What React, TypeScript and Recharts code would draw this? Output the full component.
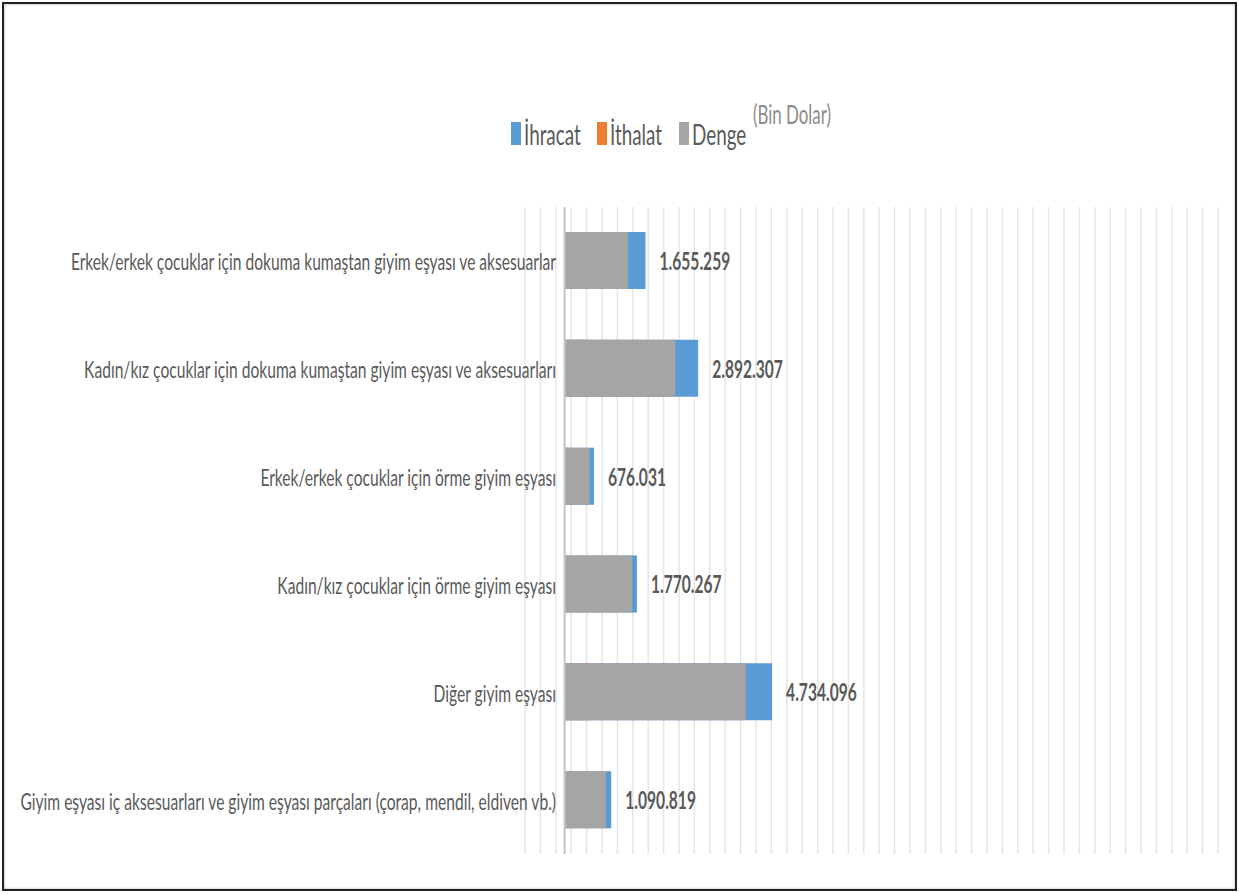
import { BarChart, Bar, XAxis, YAxis, CartesianGrid, Legend, ReferenceLine, LabelList } from 'recharts';

const categories = [
  'Erkek/erkek çocuklar için dokuma kumaştan giyim eşyası ve aksesuarlar',
  'Kadın/kız çocuklar için dokuma kumaştan giyim eşyası ve aksesuarları',
  'Erkek/erkek çocuklar için örme giyim eşyası',
  'Kadın/kız çocuklar için örme giyim eşyası',
  'Diğer giyim eşyası',
  'Giyim eşyası iç aksesuarları ve giyim eşyası parçaları (çorap, mendil, eldiven vb.)',
];

// Bin Dolar
const ihracat = [1839, 3036, 668, 1644, 4716, 1060];
const ithalat = [399, 522, 100, 107, 597, 120];
const denge = [1440, 2514, 568, 1537, 4119, 940];
const valueLabels = ['1.655.259', '2.892.307', '676.031', '1.770.267', '4.734.096', '1.090.819'];

const seriesOrder = ['İhracat', 'İthalat', 'Denge'];
const X_DOMAIN = [-900, 14850];
const gridTicks = Array.from({ length: 46 }, (_, i) => -900 + i * 350);

const data = categories.map((name, i) => ({
  name,
  ihracat: ihracat[i],
  ithalat: ithalat[i],
  denge: denge[i],
}));

const COLORS = { ihracat: '#5B9BD5', ithalat: '#ED7D31', denge: '#A5A5A5' };
const TEXT = '#595959';
const K = 0.65; // horizontal squeeze of the text

function NarrowText({ x, y, anchor = 'start', size = 24, weight = 400, fill = TEXT, children }: any) {
  return (
    <text
      transform={`translate(${x},${y}) scale(${K},1)`}
      textAnchor={anchor}
      dominantBaseline="central"
      fontSize={size}
      fontWeight={weight}
      fill={fill}
      fontFamily="Lato, 'Open Sans', sans-serif"
    >
      {children}
    </text>
  );
}

function CategoryTick({ x, y, payload }: any) {
  return (
    <NarrowText x={x + 39} y={y} anchor="end">
      {payload.value}
    </NarrowText>
  );
}

function ValueLabel({ x, y, width, height, index }: any) {
  return (
    <NarrowText x={x + width + 14} y={y + height / 2} weight={700} size={24}>
      {valueLabels[index]}
    </NarrowText>
  );
}

const legendX = [511, 597, 679];

function LegendContent({ payload }: any) {
  const items = seriesOrder
    .map((name) => (payload || []).find((p: any) => p.value === name))
    .filter(Boolean);
  return (
    <svg width={1239} height={200}>
      {items.map((p: any, i: number) => (
        <g key={p.value}>
          <rect x={legendX[i]} y={122} width={10} height={23} fill={p.color} />
          <NarrowText x={legendX[i] + 13} y={134} size={29}>
            {p.value}
          </NarrowText>
        </g>
      ))}
      <NarrowText x={753} y={114} size={26} fill="#8c8c8c">
        (Bin Dolar)
      </NarrowText>
    </svg>
  );
}

// same linear mapping as the number axis
function gridLines({ offset }: any) {
  const span = X_DOMAIN[1] - X_DOMAIN[0];
  return gridTicks.map((t) => offset.left + ((t - X_DOMAIN[0]) / span) * offset.width);
}

export default function App() {
  return (
    <div style={{ position: 'absolute', left: 0, top: 0, width: 1239, height: 895, background: '#fff' }}>
      <div
        style={{
          position: 'absolute',
          left: 2,
          top: 2,
          width: 1231,
          height: 885,
          border: '2px solid #222',
          boxShadow: 'inset 0 0 3px #aaa',
        }}
      />
      <BarChart
        width={1239}
        height={895}
        data={data}
        layout="vertical"
        margin={{ top: 207, right: 21, bottom: 41, left: 485 }}
        barGap={-57}
      >
        <CartesianGrid
          horizontal={false}
          stroke="#e6e6e6"
          strokeWidth={1.5}
          verticalCoordinatesGenerator={gridLines}
        />
        <XAxis
          type="number"
          domain={X_DOMAIN}
          ticks={gridTicks}
          interval={0}
          allowDataOverflow
          tick={false}
          tickLine={false}
          axisLine={false}
          height={0}
        />
        <YAxis
          type="category"
          dataKey="name"
          width={40}
          tick={<CategoryTick />}
          tickLine={false}
          axisLine={false}
          interval={0}
        />
        <ReferenceLine x={0} stroke="#c4c4c4" strokeWidth={2} />
        <Legend
          layout="horizontal"
          align="center"
          verticalAlign="middle"
          wrapperStyle={{ position: 'absolute', left: 0, top: 0, width: 1239, height: 200 }}
          content={<LegendContent />}
        />
        <Bar dataKey="ihracat" name="İhracat" fill={COLORS.ihracat} barSize={57} isAnimationActive={false}>
          <LabelList dataKey="ihracat" content={<ValueLabel />} />
        </Bar>
        <Bar dataKey="ithalat" name="İthalat" fill={COLORS.ithalat} barSize={57} isAnimationActive={false} />
        <Bar dataKey="denge" name="Denge" fill={COLORS.denge} barSize={57} isAnimationActive={false} />
      </BarChart>
    </div>
  );
}
